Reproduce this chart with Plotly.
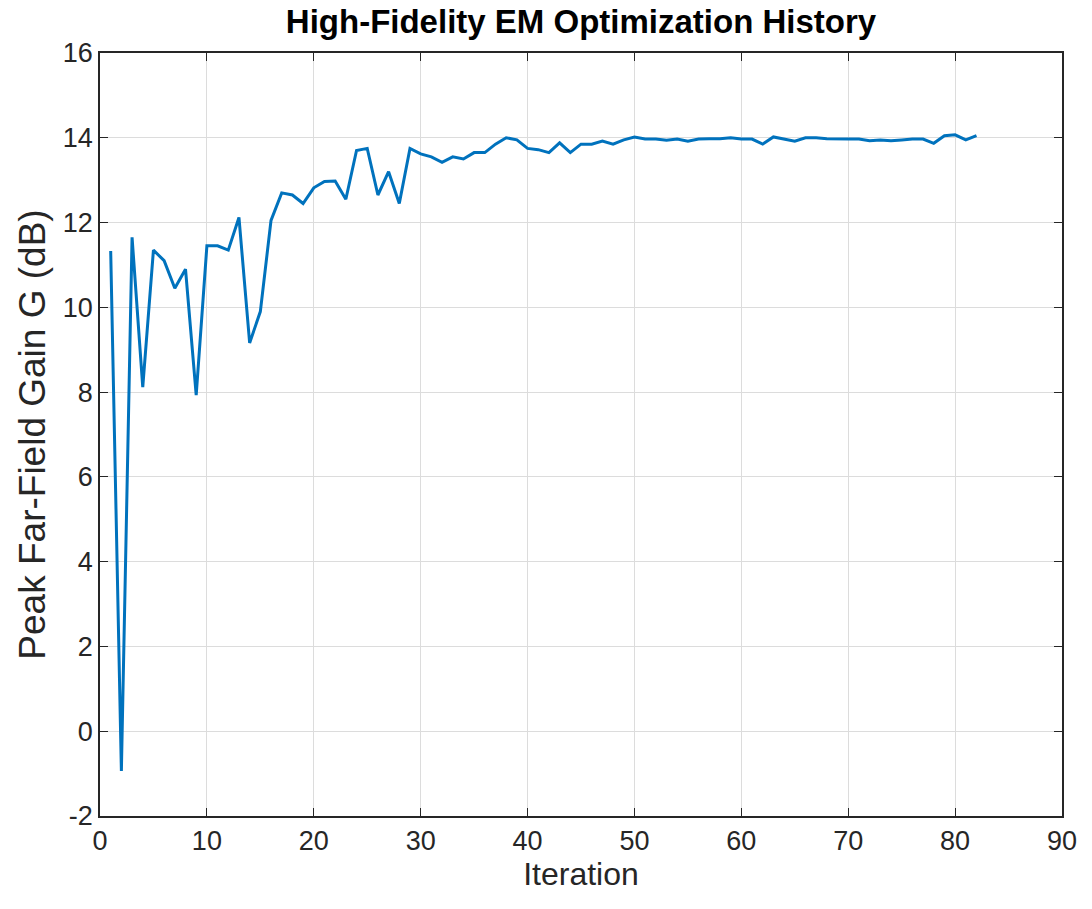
import plotly.graph_objects as go

# Optimization history: peak far-field gain per iteration
iterations = list(range(1, 83))
gain_db = [
    11.33, -0.94, 11.65, 8.12, 11.35, 11.10, 10.45, 10.90, 7.93, 11.45,
    11.45, 11.35, 12.12, 9.16, 9.90, 12.05, 12.70, 12.65, 12.45, 12.82,
    12.97, 12.98, 12.55, 13.70, 13.75, 12.65, 13.20, 12.45, 13.75, 13.62,
    13.55, 13.42, 13.55, 13.50, 13.65, 13.65, 13.85, 14.00, 13.95, 13.75,
    13.72, 13.65, 13.88, 13.65, 13.85, 13.85, 13.92, 13.85, 13.95, 14.02,
    13.97, 13.97, 13.94, 13.97, 13.92, 13.97, 13.98, 13.98, 14.00, 13.97,
    13.97, 13.85, 14.02, 13.97, 13.92, 14.00, 14.00, 13.98, 13.97, 13.97,
    13.97, 13.93, 13.95, 13.93, 13.95, 13.97, 13.97, 13.87, 14.05, 14.07,
    13.95, 14.05,
]

x_ticks = list(range(0, 91, 10))
y_ticks = list(range(-2, 17, 2))

FONT = "Liberation Sans, Arial, sans-serif"

fig = go.Figure()
fig.add_trace(go.Scatter(
    x=iterations, y=gain_db, mode="lines",
    line=dict(color="#0072BD", width=3),
    showlegend=False,
))

axis_common = dict(
    showline=True, linecolor="#262626", linewidth=1.5, mirror="ticks",
    ticks="inside", ticklen=8, tickcolor="#262626",
    showgrid=True, gridcolor="#DCDCDC", gridwidth=1,
    zeroline=False,
    tickfont=dict(family=FONT, size=27, color="#262626"),
)

fig.update_layout(
    width=1092, height=909,
    margin=dict(l=100, r=30, t=53, b=93),
    paper_bgcolor="white", plot_bgcolor="white",
    title=dict(
        text="<b>High-Fidelity EM Optimization History</b>",
        x=0.5, xanchor="center", xref="paper",
        y=0.976, yanchor="middle",
        font=dict(family=FONT, size=33, color="#000000"),
    ),
    xaxis=dict(
        range=[0, 90], tickvals=x_ticks, ticktext=[str(v) for v in x_ticks],
        title=dict(text="Iteration", standoff=0,
                   font=dict(family=FONT, size=32, color="#262626")),
        **axis_common,
    ),
    yaxis=dict(
        range=[-2, 16], tickvals=y_ticks, ticktext=[str(v) for v in y_ticks],
        title=dict(text="Peak Far-Field Gain G (dB)", standoff=6,
                   font=dict(family=FONT, size=37, color="#262626")),
        **axis_common,
    ),
)

fig.write_html("out.html")
